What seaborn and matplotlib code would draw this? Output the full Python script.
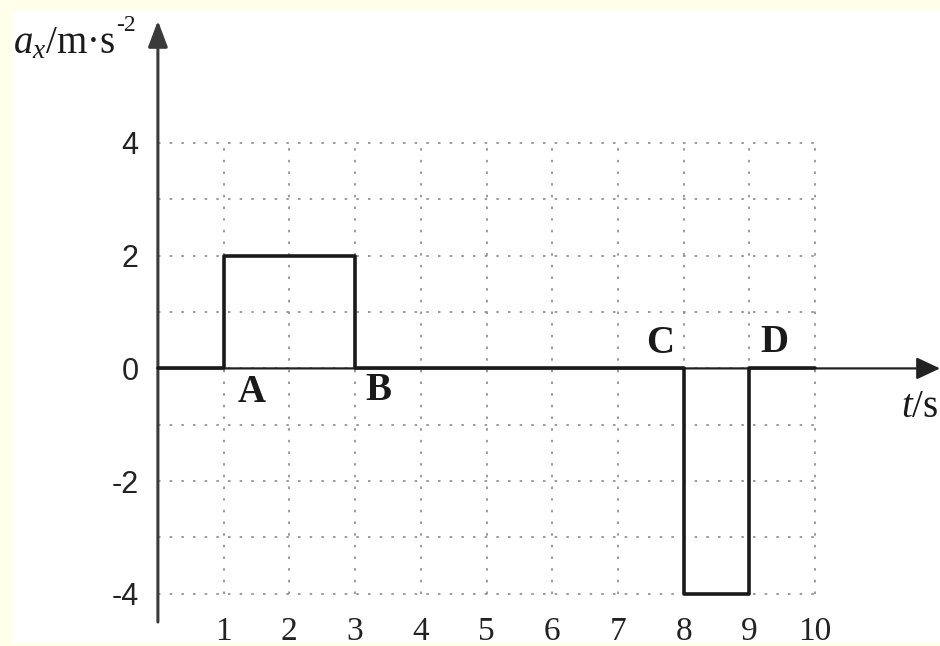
import matplotlib
matplotlib.use("Agg")
import matplotlib.pyplot as plt
from matplotlib.patches import Rectangle
import pandas as pd
import seaborn as sns

# acceleration a_x (m/s^2) as a piecewise-constant function of time t (s)
t_edges = [0, 1, 3, 8, 9, 10]
a_steps = [0, 2, 0, -4, 0, 0]          # last value repeats to close the step curve

# named corner points on the curve
corner_names = ["A", "B", "C", "D"]
corner_t = [1, 3, 8, 9]

# axis ticks and grid levels
x_ticks = [1, 2, 3, 4, 5, 6, 7, 8, 9, 10]
y_ticks = [-4, -2, 0, 2, 4]
y_tick_labels = ["-4", "-2", "0", "2", "4"]
grid_t = [1, 2, 3, 4, 5, 6, 7, 8, 9, 10]
grid_a = [-4, -3, -2, -1, 0, 1, 2, 3, 4]

df = pd.DataFrame({"t": t_edges, "a": a_steps})

sns.set_theme(style="white")
plt.rcParams["font.family"] = ["Liberation Serif", "DejaVu Serif"]
plt.rcParams["mathtext.fontset"] = "custom"
plt.rcParams["mathtext.rm"] = "Liberation Serif"
plt.rcParams["mathtext.it"] = "Liberation Serif:italic"
plt.rcParams["mathtext.bf"] = "Liberation Serif:bold"
plt.rcParams["axes.unicode_minus"] = False

W, H = 940, 646
fig = plt.figure(figsize=(W / 100, H / 100), dpi=100, facecolor="#FFFFEA")
# white page area inside the pale yellow margin
fig.patches.append(Rectangle((12 / W, 4 / H), 928 / W, 632 / H,
                             transform=fig.transFigure, facecolor="white",
                             edgecolor="none", zorder=-10))

ax = fig.add_axes([12 / W, 24 / H, 928 / W, 612 / H])
ax.set_facecolor("none")
ax.set_xlim(-2.22, 11.9)
ax.set_ylim(-4.5, 6.36)

# dotted grid over the plotting region only
grid_style = dict(colors="#8a8a8a", linestyles=[(0, (1.5, 5.5))], linewidth=1.2, zorder=1)
ax.hlines(grid_a, 0, max(grid_t), **grid_style)
ax.vlines(grid_t, min(grid_a), max(grid_a), **grid_style)

# coordinate axes with arrow heads
ax.annotate("", xy=(0, 6.17), xytext=(0, -4.5),
            arrowprops=dict(arrowstyle="-|>,head_length=1.6,head_width=0.6",
                            mutation_scale=10, lw=2.2, color="#3a3a3a",
                            shrinkA=0, shrinkB=0), zorder=3)
ax.annotate("", xy=(11.9, 0), xytext=(0, 0),
            arrowprops=dict(arrowstyle="-|>,head_length=1.45,head_width=0.68",
                            mutation_scale=10, lw=1.6, color="#222222",
                            shrinkA=0, shrinkB=0), zorder=3)

# the acceleration curve
sns.lineplot(data=df, x="t", y="a", drawstyle="steps-post", color="#1a1a1a",
             linewidth=2.6, ax=ax, zorder=4)

# corner labels
offsets = {"A": (20, -17), "B": (17, -16), "C": (-17, 18), "D": (18, 19)}
for name, tc in zip(corner_names, corner_t):
    ax.annotate(name, xy=(tc, 0), xytext=offsets[name], textcoords="offset points",
                ha="center", va="center", fontsize=28, fontweight="bold",
                color="#1a1a1a", zorder=5)

# axis titles
ax.text(-2.2, 5.6, r"$a_{x}$/m·s", fontsize=28, ha="left", va="baseline",
        color="#1a1a1a")
ax.text(-0.63, 6.27, "-2", fontsize=17, ha="left", va="top", color="#1a1a1a")
ax.text(11.87, -0.87, r"$t$/s", fontsize=28, ha="right", va="baseline",
        color="#1a1a1a")

# ticks: y labels beside the vertical axis, t labels along the bottom
for side in ["top", "right", "bottom", "left"]:
    ax.spines[side].set_visible(False)
ax.spines["left"].set_position(("data", 0))
ax.set_yticks(y_ticks, labels=y_tick_labels)
ax.set_xticks(x_ticks, labels=[str(v) for v in x_ticks])
ax.tick_params(axis="y", length=0, pad=14, labelsize=22, labelcolor="#222222")
ax.tick_params(axis="x", length=0, pad=-4, labelsize=24, labelcolor="#222222")
for lab in ax.get_yticklabels():
    lab.set_family(["Liberation Sans", "DejaVu Sans"])
ax.set_xlabel("")
ax.set_ylabel("")

fig.savefig("out.png", dpi=100, facecolor=fig.get_facecolor())
